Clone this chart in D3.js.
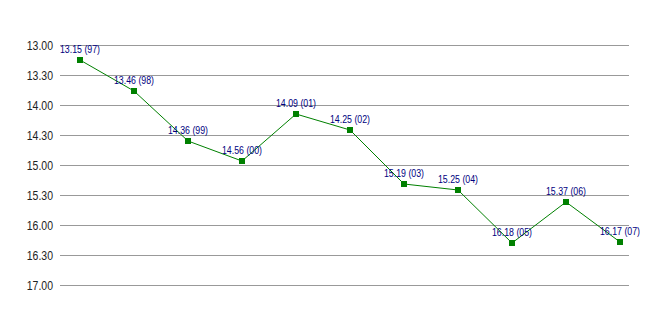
<!DOCTYPE html>
<html>
<head>
<meta charset="utf-8">
<script src="https://cdn.jsdelivr.net/npm/d3@7"></script>
<style>
body { margin: 0; background: #fff; }
</style>
</head>
<body>
<div id="chart"></div>
<script>
// times as min.sec, year in brackets
var years = ["97", "98", "99", "00", "01", "02", "03", "04", "05", "06", "07"];
var times = ["13.15", "13.46", "14.36", "14.56", "14.09", "14.25", "15.19", "15.25", "16.18", "15.37", "16.17"];
var ticks = ["13.00", "13.30", "14.00", "14.30", "15.00", "15.30", "16.00", "16.30", "17.00"];

function toSec(s) {
	var p = s.split(".");
	return (+p[0]) * 60 + (+p[1]);
}

var svg = d3.select("#chart").append("svg")
	.attr("width", 668)
	.attr("height", 315);

var x = d3.scalePoint().domain(years).range([80, 620]);
var y = d3.scaleLinear().domain([780, 1020]).range([45, 285]);

// grid
svg.selectAll("line.grid").data(ticks)
	.enter().append("line")
	.attr("class", "grid")
	.attr("x1", 60)
	.attr("x2", 629)
	.attr("y1", function(d) { return y(toSec(d)) + 0.5; })
	.attr("y2", function(d) { return y(toSec(d)) + 0.5; })
	.attr("stroke", "#999")
	.attr("stroke-width", 1);

// narrow-looking tick labels
svg.selectAll("text.tick").data(ticks)
	.enter().append("text")
	.attr("class", "tick")
	.attr("transform", function(d) { return "translate(53," + (y(toSec(d)) + 5) + ") scale(0.84,1)"; })
	.attr("text-anchor", "end")
	.attr("font-family", "Liberation Sans, Arial, sans-serif")
	.attr("font-size", 12.5)
	.attr("fill", "#222")
	.text(function(d) { return d; });

var pts = years.map(function(yr, i) { return { year: yr, t: times[i] }; });

var line = d3.line()
	.x(function(d) { return x(d.year); })
	.y(function(d) { return y(toSec(d.t)); });

svg.append("path")
	.datum(pts)
	.attr("d", line)
	.attr("fill", "none")
	.attr("stroke", "#008000")
	.attr("stroke-width", 1);

svg.selectAll("rect.mk").data(pts)
	.enter().append("rect")
	.attr("class", "mk")
	.attr("x", function(d) { return x(d.year) - 3; })
	.attr("y", function(d) { return y(toSec(d.t)) - 3; })
	.attr("width", 6)
	.attr("height", 6)
	.attr("fill", "#008000");

svg.selectAll("text.lbl").data(pts)
	.enter().append("text")
	.attr("class", "lbl")
	.attr("transform", function(d) { return "translate(" + x(d.year) + "," + (y(toSec(d.t)) - 7) + ") scale(0.88,1)"; })
	.attr("text-anchor", "middle")
	.attr("font-family", "Liberation Sans, Arial, sans-serif")
	.attr("font-size", 10)
	.attr("fill", "#000080")
	.text(function(d) { return d.t + " (" + d.year + ")"; });
</script>
</body>
</html>
